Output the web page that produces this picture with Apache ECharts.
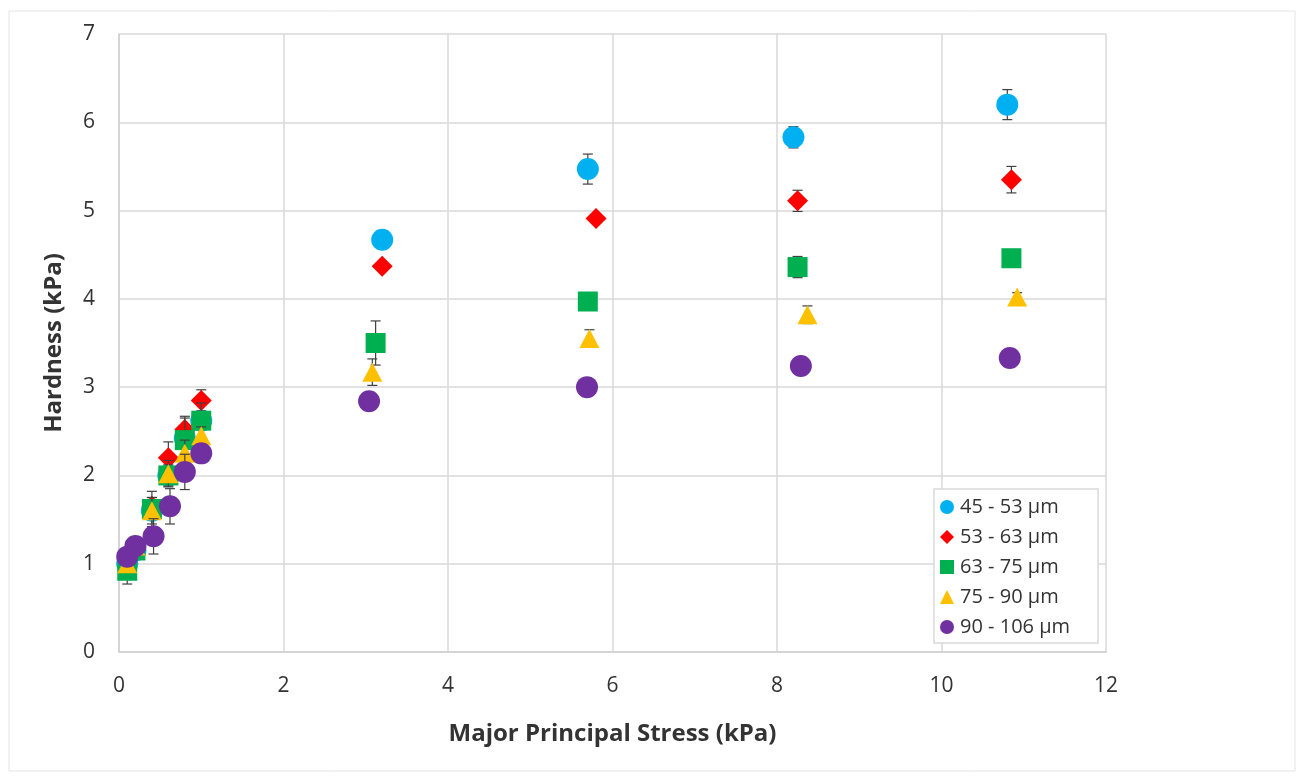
<!DOCTYPE html>
<html>
<head>
<meta charset="utf-8">
<script src="https://cdn.jsdelivr.net/npm/echarts@6/dist/echarts.min.js"></script>
<style>
  html, body { margin: 0; padding: 0; background: #ffffff; }
  #chart { width: 1304px; height: 780px; }
</style>
</head>
<body>
<div id="chart"></div>
<script>
// Hardness vs. major principal stress for five particle size fractions
const seriesNames = ['45 - 53 \u00b5m', '53 - 63 \u00b5m', '63 - 75 \u00b5m', '75 - 90 \u00b5m', '90 - 106 \u00b5m'];

const stress45 = [0.1, 0.2, 0.4, 0.6, 0.8, 1.0, 3.2, 5.7, 8.2, 10.8];
const hard45   = [1.0, 1.15, 1.6, 2.0, 2.42, 2.62, 4.67, 5.47, 5.83, 6.2];
const err45    = [0.05, 0.05, 0.1, 0.1, 0.1, 0.1, 0.08, 0.17, 0.12, 0.17];

const stress53 = [0.1, 0.2, 0.4, 0.6, 0.8, 1.0, 3.2, 5.8, 8.25, 10.85];
const hard53   = [1.05, 1.2, 1.65, 2.2, 2.52, 2.85, 4.37, 4.91, 5.11, 5.35];
const err53    = [0.05, 0.1, 0.1, 0.18, 0.15, 0.12, 0.05, 0.05, 0.12, 0.15];

const stress63 = [0.1, 0.2, 0.4, 0.6, 0.8, 1.0, 3.12, 5.7, 8.25, 10.85];
const hard63   = [0.92, 1.15, 1.62, 2.0, 2.4, 2.62, 3.5, 3.97, 4.36, 4.46];
const err63    = [0.15, 0.1, 0.2, 0.12, 0.25, 0.2, 0.25, 0.05, 0.12, 0.05];

const stress75 = [0.1, 0.2, 0.4, 0.6, 0.8, 1.0, 3.08, 5.72, 8.37, 10.92];
const hard75   = [1.0, 1.2, 1.6, 2.02, 2.25, 2.45, 3.17, 3.55, 3.82, 4.02];
const err75    = [0.05, 0.1, 0.15, 0.15, 0.15, 0.1, 0.15, 0.1, 0.1, 0.05];

const stress90 = [0.1, 0.2, 0.42, 0.62, 0.8, 1.0, 3.04, 5.69, 8.29, 10.83];
const hard90   = [1.08, 1.2, 1.31, 1.65, 2.04, 2.25, 2.84, 3.0, 3.24, 3.33];
const err90    = [0.05, 0.08, 0.2, 0.2, 0.2, 0.1, 0.05, 0.05, 0.05, 0.05];

const xTicks = [0, 2, 4, 6, 8, 10, 12];
const yTicks = [0, 1, 2, 3, 4, 5, 6, 7];

const groups = [
  { x: stress45, y: hard45, e: err45, color: '#00B0F0', symbol: 'circle',   size: 22 },
  { x: stress53, y: hard53, e: err53, color: '#FF0000', symbol: 'diamond',  size: 21 },
  { x: stress63, y: hard63, e: err63, color: '#00B050', symbol: 'rect',     size: 20 },
  { x: stress75, y: hard75, e: err75, color: '#FFC000', symbol: 'triangle', size: 20 },
  { x: stress90, y: hard90, e: err90, color: '#7030A0', symbol: 'circle',   size: 22 }
];

const FONT = '"Open Sans", Lato, sans-serif';
const TEXT = '#333333';

function errorBarRender(params, api) {
  const x = api.value(0), y = api.value(1), e = api.value(2);
  const top = api.coord([x, y + e]);
  const bot = api.coord([x, y - e]);
  const cap = 5;
  const style = { stroke: '#404040', lineWidth: 1.2 };
  return {
    type: 'group',
    children: [
      { type: 'line', shape: { x1: top[0], y1: top[1], x2: bot[0], y2: bot[1] }, style },
      { type: 'line', shape: { x1: top[0] - cap, y1: top[1], x2: top[0] + cap, y2: top[1] }, style },
      { type: 'line', shape: { x1: bot[0] - cap, y1: bot[1], x2: bot[0] + cap, y2: bot[1] }, style }
    ]
  };
}

const series = [];
groups.forEach((g, i) => {
  series.push({
    name: seriesNames[i] + ' err',
    type: 'custom',
    renderItem: errorBarRender,
    data: g.x.map((v, k) => [v, g.y[k], g.e[k]]),
    z: 2 + i * 2,
    silent: true,
    encode: { x: 0, y: 1 }
  });
  series.push({
    name: seriesNames[i],
    type: 'scatter',
    symbol: g.symbol,
    symbolSize: g.symbol === 'triangle' ? [20, 19] : g.size,
    itemStyle: { color: g.color, opacity: 1 },
    data: g.x.map((v, k) => [v, g.y[k]]),
    z: 3 + i * 2
  });
});

const chart = echarts.init(document.getElementById('chart'), null, { renderer: 'canvas' });
chart.setOption({
  backgroundColor: '#ffffff',
  animation: false,
  textStyle: { fontFamily: FONT },
  grid: { left: 119, top: 34, right: 198, bottom: 128 },
  xAxis: {
    type: 'value', min: xTicks[0], max: xTicks[xTicks.length - 1], interval: 2,
    name: 'Major Principal Stress (kPa)', nameLocation: 'middle', nameGap: 70,
    nameTextStyle: { fontFamily: FONT, fontSize: 24, fontWeight: 'bold', color: TEXT },
    axisLine: { show: true, lineStyle: { color: '#d0d0d0', width: 1.5 } },
    axisTick: { show: false },
    axisLabel: { fontFamily: FONT, fontSize: 21, color: TEXT, margin: 24 },
    splitLine: { show: true, lineStyle: { color: '#d9d9d9', width: 1.5 } }
  },
  yAxis: {
    type: 'value', min: yTicks[0], max: yTicks[yTicks.length - 1], interval: 1,
    name: 'Hardness (kPa)', nameLocation: 'middle', nameGap: 53, nameRotate: 90,
    nameTextStyle: { fontFamily: FONT, fontSize: 24, fontWeight: 'bold', color: TEXT },
    axisLine: { show: true, lineStyle: { color: '#d0d0d0', width: 1.5 } },
    axisTick: { show: false },
    axisLabel: { fontFamily: FONT, fontSize: 21, color: TEXT, margin: 24 },
    splitLine: { show: true, lineStyle: { color: '#d9d9d9', width: 1.5 } }
  },
  legend: {
    data: seriesNames,
    orient: 'vertical',
    left: 934, top: 489,
    itemWidth: 14, itemHeight: 14, itemGap: 10,
    backgroundColor: '#ffffff',
    borderColor: '#d9d9d9', borderWidth: 1.5,
    padding: [8, 28, 6, 6],
    textStyle: { fontFamily: FONT, fontSize: 20, color: TEXT, padding: [0, 0, 0, 1] }
  },
  graphic: [{
    type: 'rect', shape: { x: 9, y: 11, width: 1286, height: 760 },
    style: { fill: 'none', stroke: '#e4e4e4', lineWidth: 1 }, silent: true, z: -1
  }],
  series
});
</script>
</body>
</html>
